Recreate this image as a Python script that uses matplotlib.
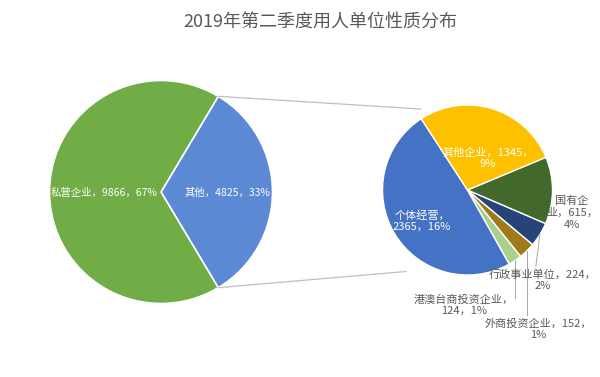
import numpy as np
import matplotlib.pyplot as plt

plt.rcParams['font.family'] = ['Noto Sans CJK SC', 'DejaVu Sans']

title = '2019年第二季度用人单位性质分布'

# main pie
main_names = ['其他', '私营企业']
main_values = [4825, 9866]
main_colors = ['#5B89D3', '#70AD47']

# secondary pie (breakdown of 其他), counter-clockwise order
sub_names = ['个体经营', '港澳台商投资企业', '外商投资企业', '行政事业单位', '国有企业', '其他企业']
sub_values = [2365, 124, 152, 224, 615, 1345]
sub_colors = ['#4472C4', '#A9D18E', '#9E7A1A', '#264478', '#43682B', '#FFC000']
sub_breaks = [[5], [9], [11], [11], [3, 9], [10]]

total = sum(main_values)


def label_text(name, v, breaks=()):
    s = f'{name}，{v}，{round(100 * v / total)}%'
    for b in sorted(breaks, reverse=True):
        s = s[:b] + '\n' + s[b:]
    return s


fig = plt.figure(figsize=(6, 3.77), dpi=100)
ax = fig.add_axes([0, 0, 1, 1])

# geometry in pixel-like units (y up)
main_c, main_r = (161, 185), 111.5
sub_c, sub_r = (467.5, 187), 85
half = 180 * main_values[0] / total

ax.pie(main_values, colors=main_colors, startangle=-half, center=main_c,
       radius=main_r, wedgeprops=dict(edgecolor='white', linewidth=1.2))
sub_wedges, _ = ax.pie(sub_values, colors=sub_colors, startangle=123, center=sub_c,
                       radius=sub_r, wedgeprops=dict(edgecolor='white', linewidth=1.0))

# connector lines
for a, ang, k in [(half, 120, 1.1), (-half, -127, 1.2)]:
    x0 = main_c[0] + main_r * np.cos(np.radians(a))
    y0 = main_c[1] + main_r * np.sin(np.radians(a))
    x1 = sub_c[0] + k * sub_r * np.cos(np.radians(ang))
    y1 = sub_c[1] + k * sub_r * np.sin(np.radians(ang))
    ax.plot([x0, x1], [y0, y1], color='#BFBFBF', lw=0.9)

# main pie labels
main_pos = [(227, 184), (104, 184)]
for n, v, (x, y) in zip(main_names, main_values, main_pos):
    ax.text(x, y, label_text(n, v), color='white', fontsize=7.5,
            ha='center', va='center')

# secondary pie labels
sub_pos = [(422, 156), (464, 72), (538, 48), (543, 97), (572, 164), (488, 219)]
sub_inside = [True, False, False, False, False, True]
leader_end = [None, 79, 62, 111, None, None]
for i, (n, v) in enumerate(zip(sub_names, sub_values)):
    x, y = sub_pos[i]
    ax.text(x, y, label_text(n, v, sub_breaks[i]),
            color='white' if sub_inside[i] else '#595959', fontsize=8,
            ha='center', va='center', linespacing=1.2)
    if leader_end[i] is not None:
        w = sub_wedges[i]
        mid = np.radians((w.theta1 + w.theta2) / 2)
        ex = sub_c[0] + sub_r * np.cos(mid)
        ey = sub_c[1] + sub_r * np.sin(mid)
        ax.plot([ex, ex if i != 3 else ex - 4], [ey, leader_end[i]],
                color='#A6A6A6', lw=0.7)

ax.text(320, 354, title, color='#595959', fontsize=13, ha='center', va='center')

ax.set_xlim(0, 600)
ax.set_ylim(0, 377)
ax.set_aspect('equal')
ax.axis('off')

fig.savefig('out.png', dpi=100)
